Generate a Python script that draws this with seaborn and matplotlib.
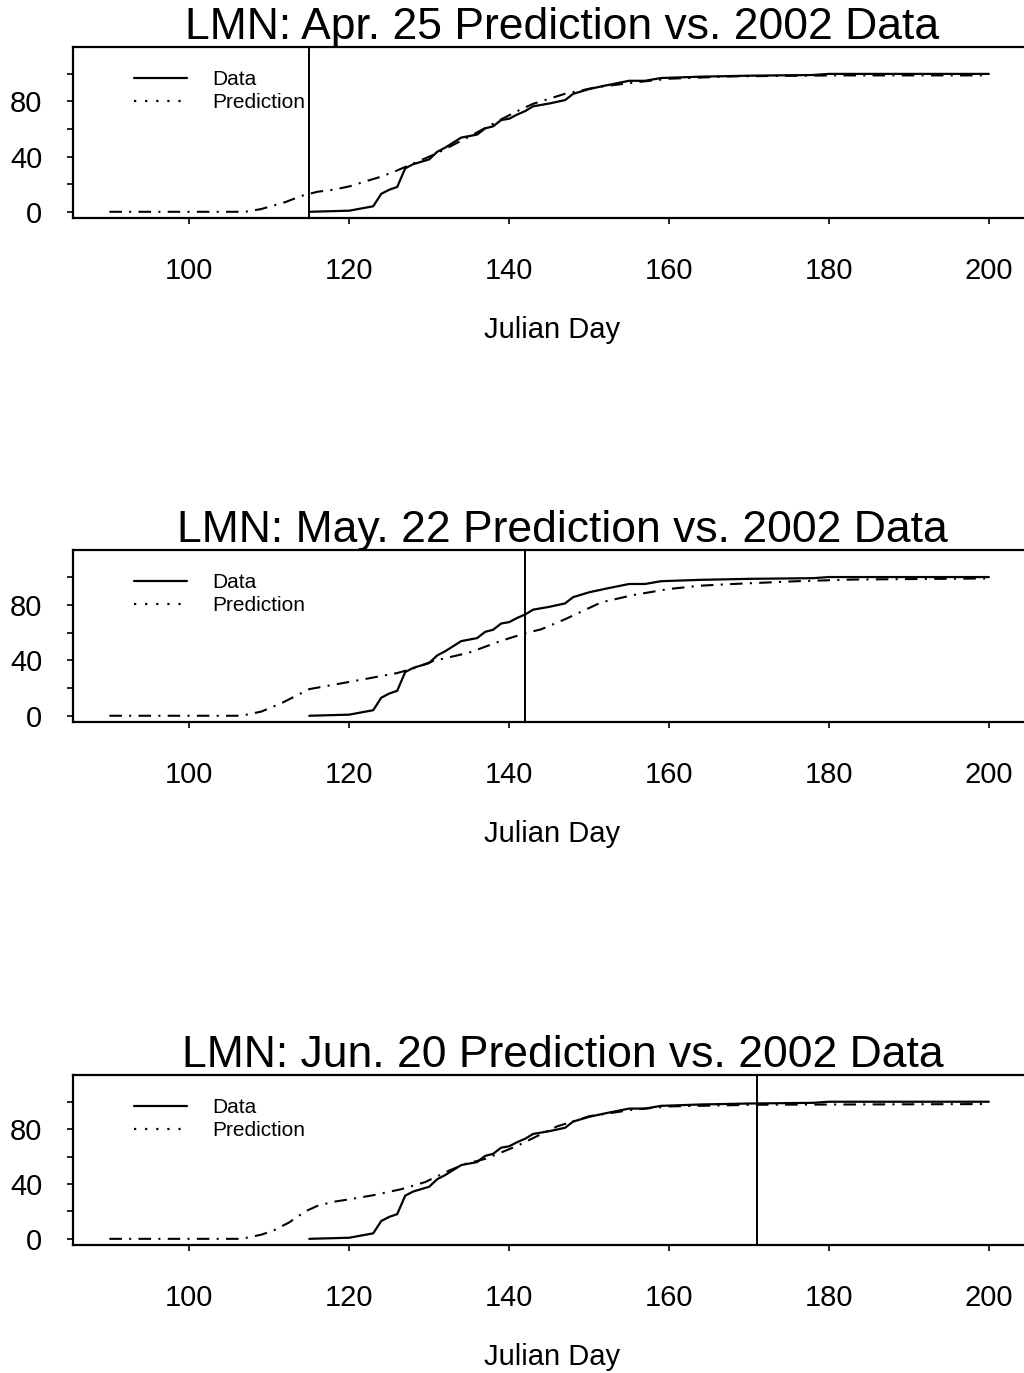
import matplotlib
matplotlib.use("Agg")
import matplotlib.pyplot as plt
from matplotlib.lines import Line2D
from matplotlib.ticker import FixedLocator
import numpy as np
import pandas as pd
import seaborn as sns

# Observed 2002 cumulative passage (%) by Julian day
data_day = [115, 120, 123, 124, 125, 126, 127, 128, 130, 131, 132, 134, 136, 137,
            138, 139, 140, 141, 142, 143, 145, 147, 148, 150, 152, 155, 157, 159,
            164, 170, 178, 180, 200]
data_pct = [0, 0.8, 4, 13, 16, 18, 31.5, 34.5, 38, 43.5, 46.5, 53.8, 56, 60.5,
            62, 66.5, 67.5, 70.5, 73, 76.5, 78.5, 81, 85.5, 89, 91.5, 95, 95, 97,
            98, 98.7, 99.2, 100, 100]

# Predictions issued on Apr. 25 (day 115)
pred_apr_day = [90, 107, 109, 112, 114, 116, 118, 120, 122, 124, 126, 129, 131,
                135, 139, 141, 143, 147, 151, 156, 160, 168, 181, 200]
pred_apr_pct = [0, 0, 2, 7, 11.5, 14.5, 16, 18.4, 22, 25.5, 30, 37.5, 42.5,
                54.5, 67, 73, 78.3, 85.6, 90.4, 94, 96.5, 98.2, 98.9, 98.9]

# Predictions issued on May 22 (day 142)
pred_may_day = [90, 106.5, 109, 111.5, 114, 115, 118, 122, 126, 128, 130.5, 135,
                139, 142, 144, 147, 151.5, 155.5, 160, 164, 168, 176, 183, 200]
pred_may_pct = [0, 0, 3, 9, 16.3, 19.2, 22.3, 26.5, 30.8, 34, 39.5, 45.5,
                54, 59.5, 62.3, 69.6, 81.7, 87, 91.4, 93.8, 95, 97, 98.2, 99]

# Predictions issued on Jun. 20 (day 171)
pred_jun_day = [90, 106.5, 109, 110.5, 112.5, 114.5, 116, 118, 120, 123, 126.5,
                129.5, 132.5, 134.5, 137, 139, 141, 146, 150, 155.5, 160, 171, 200]
pred_jun_pct = [0, 0, 3, 6, 12, 20, 24, 27, 28.8, 31.8, 36.2,
                41.4, 49.8, 54.6, 58.3, 63, 67.8, 82, 89.4, 94.2, 96.6, 97.8, 98.3]

titles = ["LMN: Apr. 25 Prediction vs. 2002 Data",
          "LMN: May. 22 Prediction vs. 2002 Data",
          "LMN: Jun. 20 Prediction vs. 2002 Data"]
issue_days = [115, 142, 171]
x_ticks = [100, 120, 140, 160, 180, 200]
y_major = [0, 40, 80]
y_minor = [20, 60, 100]

sns.set_style("white")
plt.rcParams["font.family"] = ["Liberation Sans", "DejaVu Sans"]
plt.rcParams["axes.linewidth"] = 1.6
plt.rcParams["text.color"] = "black"
plt.rcParams["axes.labelcolor"] = "black"
plt.rcParams["xtick.color"] = "black"
plt.rcParams["ytick.color"] = "black"

W, H = 1024, 1373
fig = plt.figure(figsize=(W / 100, H / 100), dpi=100)

# panel boxes in pixels: (top, bottom)
boxes = [(47, 218), (550, 722), (1075, 1245)]
left_px, right_px = 73, 1052

data_df = pd.DataFrame({"day": data_day, "pct": data_pct})
preds = [(pred_apr_day, pred_apr_pct), (pred_may_day, pred_may_pct),
         (pred_jun_day, pred_jun_pct)]

dashdot = (0, (6, 3.5, 1, 3.5))

for (top, bot), title, issue, (pd_day, pd_pct) in zip(boxes, titles, issue_days, preds):
    ax = fig.add_axes([left_px / W, 1 - bot / H, (right_px - left_px) / W, (bot - top) / H])
    pred_df = pd.DataFrame({"day": pd_day, "pct": pd_pct})
    sns.lineplot(data=data_df, x="day", y="pct", ax=ax, color="black", lw=1.6,
                 estimator=None, sort=False)
    sns.lineplot(data=pred_df, x="day", y="pct", ax=ax, color="black", lw=1.5,
                 linestyle=dashdot, estimator=None, sort=False)
    ax.axvline(issue, color="black", lw=1.4)

    ax.set_xlim(85.45, 207.9)
    ax.set_ylim(-4.5, 119.5)
    ax.set_xticks(x_ticks)
    ax.set_xticklabels([str(t) for t in x_ticks])
    ax.yaxis.set_major_locator(FixedLocator(y_major))
    ax.yaxis.set_minor_locator(FixedLocator(y_minor))
    ax.set_yticklabels([str(t) for t in y_major])
    ax.tick_params(axis="both", which="both", direction="out", length=4, width=1.2,
                   colors="black", labelsize=21)
    ax.tick_params(axis="x", pad=24)
    ax.tick_params(axis="y", which="both", pad=18, left=True)
    ax.tick_params(axis="x", bottom=True)
    for s in ax.spines.values():
        s.set_color("black")
        s.set_linewidth(1.6)

    ax.set_xlabel("Julian Day", fontsize=21)
    ax.xaxis.set_label_coords(0.489, -112 / (bot - top), transform=ax.transAxes)
    ax.xaxis.label.set_verticalalignment("center")
    ax.set_ylabel("")
    ax.set_title(title, fontsize=32, pad=6, color="black")

    handles = [Line2D([], [], color="black", lw=1.6),
               Line2D([], [], color="black", lw=1.6, linestyle=(0, (1, 4)))]
    ax.legend(handles, ["Data", "Prediction"], loc="upper left",
              bbox_to_anchor=(0.0623, 0.865), frameon=False, fontsize=15,
              handlelength=2.55, handletextpad=1.2, labelspacing=0.2,
              borderpad=0, borderaxespad=0)

fig.savefig("out.png", dpi=100, facecolor="white")
